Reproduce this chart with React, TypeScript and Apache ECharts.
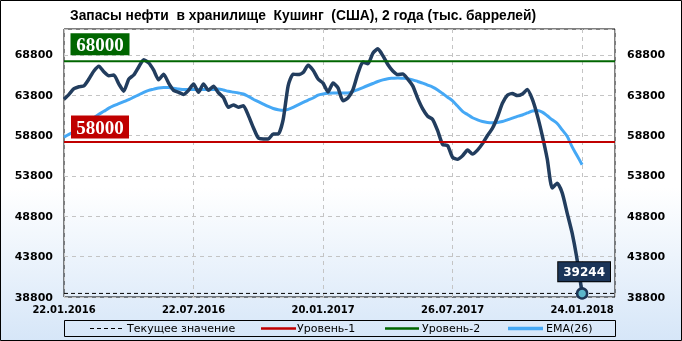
import React, { useEffect, useRef } from "react";
import * as echarts from "echarts";

const dateLabels = ["22.01.2016", "22.07.2016", "20.01.2017", "26.07.2017", "24.01.2018"];
const yTicks = [38800, 43800, 48800, 53800, 58800, 63800, 68800];

const stocks = [
  63300, 63900, 64600, 64850, 64950, 65800, 66800, 67400, 66700, 66200,
  66300, 65200, 64300, 65800, 66300, 67300, 68200, 67800, 66900, 65700,
  66400, 65300, 64400, 64150, 63900, 64400, 65200, 64150, 65200, 64400,
  64900, 64100, 63500, 62300, 62600, 62300, 62500, 61300, 59800, 58500,
  58370, 58370, 59000, 59000, 60800, 65000, 66400, 66350, 66600, 67500,
  66900, 65800, 65300, 64200, 65300, 64700, 63100, 63460, 64500, 66500,
  67900, 67700, 69000, 69540, 68700, 67600, 66800, 66350, 66430, 65800,
  64950, 63400, 62100, 61200, 60800, 59400, 57700, 57550, 56100, 55850,
  56300, 57000, 56500, 57000, 57800, 58800, 59700, 61100, 62800, 63800,
  64000, 63750, 63950, 64500, 63300, 61300, 58800, 55900, 52300, 52900,
  51700, 49200, 46700, 43400, 39244,
];

const ema26 = [
  58600, 58950, 59300, 59650, 60000, 60500, 61000, 61450, 61800, 62200,
  62500, 62750, 63000, 63250, 63550, 63850, 64150, 64400, 64550, 64700,
  64750, 64750, 64650, 64580, 64500, 64490, 64490, 64490, 64490, 64490,
  64520, 64580, 64450, 64280, 64180, 64080, 63950, 63650, 63300, 63000,
  62700, 62400, 62150, 62000, 61920, 62050, 62300, 62600, 62900, 63200,
  63450, 63800, 63950, 64050, 64080, 64080, 64080, 64080, 64250, 64500,
  64750, 65000, 65250, 65500, 65700, 65850, 65900, 65940, 65900, 65850,
  65700, 65500, 65300, 65050, 64800, 64450, 64000, 63550, 63100, 62450,
  61800, 61400, 61000, 60750, 60550, 60430, 60400, 60430, 60550, 60750,
  60950, 61180, 61350, 61600, 61850, 61900, 61700, 61250, 60750, 60300,
  59500, 58700, 57400, 56300, 55180,
];

const level1 = 58000;
const level2 = 68000;
const currentValue = 39244;

const X_MAX = 110.6;
const WEEKS_PER_LABEL = 26;

export default function App() {
  const ref = useRef<HTMLDivElement>(null);

  useEffect(() => {
    if (!ref.current) return;
    const chart = echarts.init(ref.current, undefined, { renderer: "svg" });
    const last = stocks.length - 1;
    const mainData: any[] = stocks.map((v, i) => [i, v]);
    mainData[last] = {
      value: [last, stocks[last]],
      symbol: "circle",
      symbolSize: 10,
      itemStyle: { color: "#5cb6c9", borderColor: "#1c3455", borderWidth: 2.5 },
      label: {
        show: true,
        position: "top",
        distance: 6,
        formatter: String(currentValue),
        color: "#fff",
        fontFamily: "DejaVu Sans",
        fontWeight: "bold",
        fontSize: 12,
        backgroundColor: "#1b3558",
        borderColor: "#000",
        borderWidth: 1,
        padding: [4, 5, 3, 5],
        offset: [2, 0],
      },
    };

    const axisFont = { fontFamily: "DejaVu Sans", fontWeight: "bold" as const, color: "#000" };
    const yAxisCommon = {
      type: "value" as const,
      min: 38800,
      max: 72000,
      interval: 5000,
      axisLine: { show: false },
      axisTick: { show: false },
    };
    const legendY = 328.5;
    const legendFont = { fontFamily: "DejaVu Sans", fontSize: 11, fill: "#000", verticalAlign: "middle" };

    chart.setOption({
      animation: false,
      title: {
        text: "Запасы нефти  в хранилище  Кушинг  (США), 2 года (тыс. баррелей)",
        left: 70,
        top: 8,
        padding: 0,
        textStyle: { fontFamily: "Liberation Sans", fontWeight: "bold", fontSize: 13.8, color: "#000" },
      },
      graphic: [
        {
          type: "rect",
          z: -10,
          silent: true,
          shape: { x: 0.5, y: 0.5, width: 681, height: 340 },
          style: {
            fill: new echarts.graphic.LinearGradient(0, 0, 0, 1, [
              { offset: 0, color: "#ffffff" },
              { offset: 0.55, color: "#ffffff" },
              { offset: 1, color: "#d6e6f8" },
            ]),
            stroke: "#000",
            lineWidth: 1,
          },
        },
        {
          type: "rect",
          silent: true,
          shape: { x: 64.5, y: 320.5, width: 551, height: 16 },
          style: { fill: "none", stroke: "#000", lineWidth: 1 },
        },
        { type: "line", silent: true, shape: { x1: 90, y1: legendY, x2: 124, y2: legendY }, style: { stroke: "#000", lineWidth: 1, lineDash: [4, 3] } },
        { type: "text", silent: true, style: { ...legendFont, text: "Текущее значение", x: 127, y: legendY } },
        { type: "line", silent: true, shape: { x1: 261, y1: legendY, x2: 296, y2: legendY }, style: { stroke: "#c00000", lineWidth: 2.5 } },
        { type: "text", silent: true, style: { ...legendFont, text: "Уровень-1", x: 297, y: legendY } },
        { type: "line", silent: true, shape: { x1: 385, y1: legendY, x2: 419, y2: legendY }, style: { stroke: "#006600", lineWidth: 2.5 } },
        { type: "text", silent: true, style: { ...legendFont, text: "Уровень-2", x: 422, y: legendY } },
        { type: "line", silent: true, shape: { x1: 508, y1: legendY, x2: 543, y2: legendY }, style: { stroke: "#45a8f5", lineWidth: 3.5 } },
        { type: "text", silent: true, style: { ...legendFont, text: "EMA(26)", x: 546, y: legendY } },
      ],
      grid: {
        left: 64,
        right: 67,
        top: 29,
        bottom: 44,
        show: true,
        borderColor: "#000",
        borderWidth: 1,
        backgroundColor: "transparent",
      },
      xAxis: {
        type: "value",
        min: 0,
        max: X_MAX,
        interval: WEEKS_PER_LABEL,
        axisLine: { show: false },
        axisTick: { show: false },
        splitLine: { show: true, lineStyle: { color: "#c4c4c4", type: [4, 4], width: 1 } },
        axisLabel: {
          ...axisFont,
          fontSize: 10,
          margin: 7,
          showMaxLabel: false,
          formatter: (v: number) => {
            const k = v / WEEKS_PER_LABEL;
            return Number.isInteger(k) && dateLabels[k] ? dateLabels[k] : "";
          },
        },
      },
      yAxis: [
        {
          ...yAxisCommon,
          position: "left",
          splitLine: { show: true, lineStyle: { color: "#c4c4c4", type: [4, 4], width: 1 } },
          axisLabel: {
            ...axisFont,
            fontSize: 11,
            margin: 11,
            showMaxLabel: false,
            formatter: (v: number) => (yTicks.includes(v) ? String(v) : ""),
          },
        },
        {
          ...yAxisCommon,
          position: "right",
          splitLine: { show: false },
          axisLabel: {
            ...axisFont,
            fontSize: 11,
            margin: 12,
            showMaxLabel: false,
            formatter: (v: number) => (yTicks.includes(v) ? String(v) : ""),
          },
        },
      ],
      series: [
        {
          name: "Текущее значение",
          type: "line",
          z: 1,
          symbol: "none",
          data: [[0, currentValue], [X_MAX, currentValue]],
          lineStyle: { color: "#000", width: 1, type: [4, 3] },
        },
        {
          name: "EMA(26)",
          type: "line",
          z: 2,
          symbol: "none",
          smooth: 0.3,
          data: ema26.map((v, i) => [i, v]),
          lineStyle: { color: "#45a8f5", width: 3 },
        },
        {
          name: "Запасы",
          type: "line",
          z: 3,
          symbol: "none",
          showSymbol: true,
          smooth: 0.2,
          data: mainData,
          lineStyle: { color: "#223d5e", width: 3.5 },
        },
        {
          name: "Уровень-1",
          type: "line",
          z: 4,
          symbol: "none",
          data: [[0, level1], [X_MAX, level1]],
          lineStyle: { color: "#c00000", width: 2 },
          markPoint: {
            symbol: "rect",
            symbolSize: [58, 23],
            symbolOffset: [36, -15],
            itemStyle: { color: "#c00000" },
            label: {
              show: true,
              position: "inside",
              formatter: String(level1),
              color: "#fff",
              fontFamily: "Liberation Serif",
              fontWeight: "bold",
              fontSize: 19,
            },
            data: [{ coord: [0, level1], value: level1 }],
          },
        },
        {
          name: "Уровень-2",
          type: "line",
          z: 4,
          symbol: "none",
          data: [[0, level2], [X_MAX, level2]],
          lineStyle: { color: "#006600", width: 2 },
          markPoint: {
            symbol: "rect",
            symbolSize: [59, 22],
            symbolOffset: [36, -17],
            itemStyle: { color: "#006600" },
            label: {
              show: true,
              position: "inside",
              formatter: String(level2),
              color: "#fff",
              fontFamily: "Liberation Serif",
              fontWeight: "bold",
              fontSize: 19,
            },
            data: [{ coord: [0, level2], value: level2 }],
          },
        },
      ],
    });
    return () => chart.dispose();
  }, []);

  return (
    <div
      ref={ref}
      style={{ position: "fixed", left: 0, top: 0, width: 682, height: 341 }}
    />
  );
}
